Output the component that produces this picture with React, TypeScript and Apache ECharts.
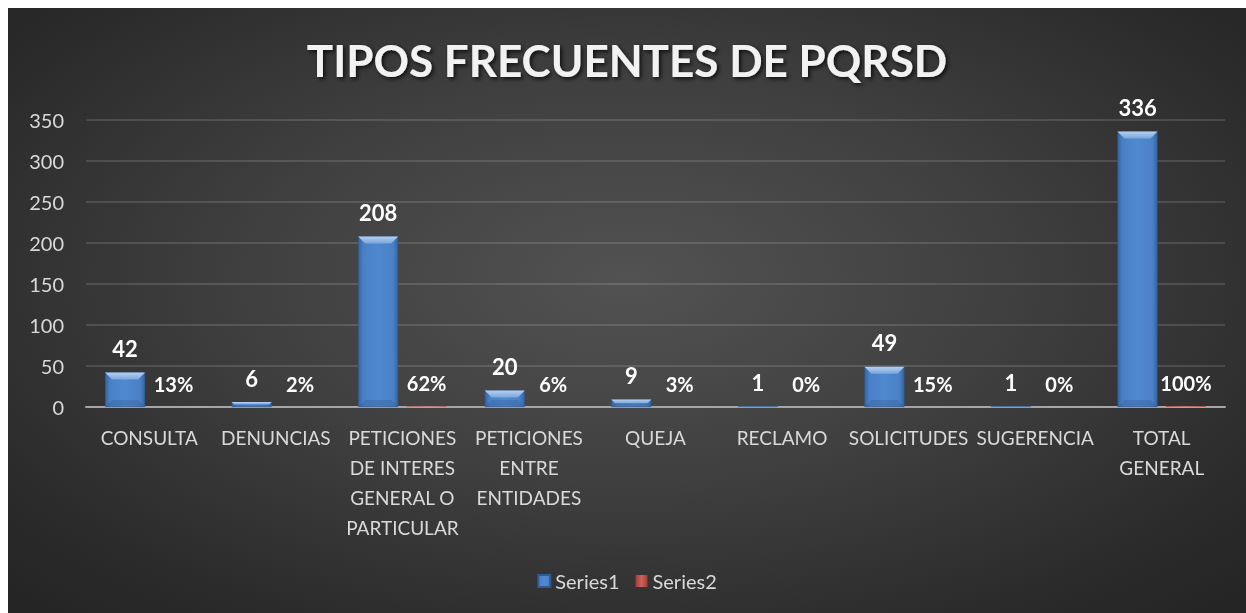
import React, { useEffect, useRef } from "react";
import * as echarts from "echarts";

const categories = [
  "CONSULTA",
  "DENUNCIAS",
  "PETICIONES\nDE INTERES\nGENERAL O\nPARTICULAR",
  "PETICIONES\nENTRE\nENTIDADES",
  "QUEJA",
  "RECLAMO",
  "SOLICITUDES",
  "SUGERENCIA",
  "TOTAL\nGENERAL",
];
const series1 = [42, 6, 208, 20, 9, 1, 49, 1, 336];
const series2 = [0.125, 0.018, 0.619, 0.06, 0.027, 0.003, 0.146, 0.003, 1];
const yTicks = { min: 0, max: 350, interval: 50 };
const titleText = "TIPOS FRECUENTES DE PQRSD";

const FONT = "Lato, 'Open Sans', sans-serif";
const BAR_W = 40;
const GAP_PX = 8.4;

export default function App() {
  const ref = useRef<HTMLDivElement>(null);
  useEffect(() => {
    if (!ref.current) return;
    const chart = echarts.init(ref.current, undefined, { renderer: "svg" });
    const blue = new echarts.graphic.LinearGradient(0, 0, 1, 0, [
      { offset: 0, color: "#3565a3" },
      { offset: 0.12, color: "#4a80c6" },
      { offset: 0.5, color: "#5089cf" },
      { offset: 0.88, color: "#4a80c6" },
      { offset: 1, color: "#3565a3" },
    ]);
    const red = new echarts.graphic.LinearGradient(0, 0, 1, 0, [
      { offset: 0, color: "#a03b38" },
      { offset: 0.5, color: "#d0605c" },
      { offset: 1, color: "#a03b38" },
    ]);
    const labelBase = {
      show: true,
      position: "top" as const,
      distance: 13,
      color: "#ffffff",
      fontFamily: FONT,
      fontWeight: "bold" as const,
    };
    chart.setOption({
      animation: false,
      backgroundColor: "transparent",
      title: {
        text: titleText,
        left: "center",
        top: 25,
        textStyle: {
          color: "#f2f2f2",
          fontFamily: FONT,
          fontWeight: "bold",
          fontSize: 44,
          textShadowColor: "rgba(0,0,0,0.75)",
          textShadowBlur: 4,
          textShadowOffsetX: 2,
          textShadowOffsetY: 2,
        },
      },
      legend: {
        bottom: 17,
        left: "center",
        itemWidth: 12,
        itemHeight: 12,
        itemGap: 16,
        icon: "rect",
        textStyle: { color: "#d9d9d9", fontFamily: FONT, fontSize: 20 },
        data: ["Series1", "Series2"],
      },
      grid: { left: 78, right: 21, top: 112, bottom: 206, containLabel: false },
      xAxis: {
        type: "category",
        data: categories,
        axisLine: { lineStyle: { color: "#a6a6a6", width: 2 } },
        axisTick: { show: false },
        axisLabel: {
          interval: 0,
          color: "#d9d9d9",
          fontFamily: FONT,
          fontSize: 19,
          lineHeight: 30,
          margin: 15,
        },
      },
      yAxis: {
        type: "value",
        min: yTicks.min,
        max: yTicks.max,
        interval: yTicks.interval,
        axisLine: { show: false },
        axisTick: { show: false },
        splitLine: { lineStyle: { color: "rgba(255,255,255,0.13)", width: 2 } },
        axisLabel: {
          color: "#d9d9d9",
          fontFamily: FONT,
          fontSize: 20,
          margin: 22,
        },
      },
      series: [
        {
          name: "Series1",
          type: "bar",
          data: series1,
          barWidth: BAR_W,
          barGap: "21%",
          itemStyle: { color: blue, borderColor: "#2f5b93", borderWidth: 0.5 },
          label: { ...labelBase, fontSize: 22 },
        },
        {
          name: "Series2",
          type: "bar",
          data: series2,
          barWidth: BAR_W,
          itemStyle: { color: red },
          label: {
            ...labelBase,
            fontSize: 20,
            formatter: (p: any) => Math.round(p.value * 100) + "%",
          },
        },
        {
          name: "bevel",
          type: "custom",
          silent: true,
          z: 5,
          data: series1.map((v, i) => [i, v]),
          renderItem: (params: any, api: any) => {
            const idx = api.value(0);
            const v = api.value(1);
            const top = api.coord([idx, v]);
            const base = api.coord([idx, 0]);
            const x0 = top[0] - (BAR_W * 2 + GAP_PX) / 2;
            const x1 = x0 + BAR_W;
            const y0 = top[1];
            const y1 = base[1];
            const h = y1 - y0;
            const b = Math.min(7, h / 2);
            if (h < 1) return { type: "group", children: [] };
            return {
              type: "group",
              children: [
                {
                  type: "polygon",
                  shape: {
                    points: [
                      [x0, y0],
                      [x1, y0],
                      [x1 - b, y0 + b],
                      [x0 + b, y0 + b],
                    ],
                  },
                  style: {
                    fill: new echarts.graphic.LinearGradient(0, 0, 0, 1, [
                      { offset: 0, color: "#b4d0f2" },
                      { offset: 1, color: "#7aa6dc" },
                    ]),
                  },
                },
                {
                  type: "polygon",
                  shape: {
                    points: [
                      [x0, y1],
                      [x1, y1],
                      [x1 - b, y1 - b],
                      [x0 + b, y1 - b],
                    ],
                  },
                  style: { fill: "rgba(30,60,110,0.2)" },
                },
              ],
            };
          },
        },
      ],
    });
    return () => chart.dispose();
  }, []);
  return (
    <div
      style={{
        position: "fixed",
        left: 8,
        top: 8,
        width: 1238,
        height: 605,
        background:
          "radial-gradient(ellipse 70% 75% at 50% 45%, #525252 0%, #3f3f3f 45%, #2a2a2a 85%, #252525 100%)",
      }}
    >
      <div ref={ref} style={{ width: 1238, height: 605 }} />
    </div>
  );
}
